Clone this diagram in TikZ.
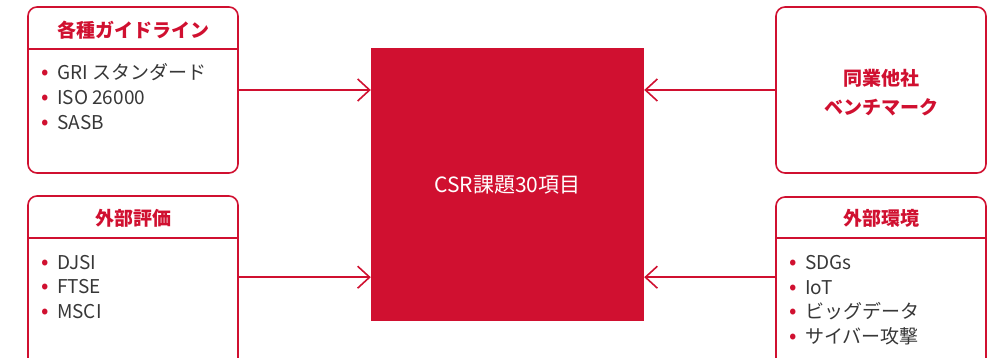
\documentclass[tikz,border=0pt]{standalone}
\usepackage{fontspec}
\setmainfont{Noto Sans CJK JP}
\usetikzlibrary{positioning,arrows.meta}
\definecolor{csrred}{RGB}{208,16,48}
\definecolor{itemgray}{RGB}{55,55,55}
\newcommand{\csrbullet}{\textcolor{csrred}{\fontsize{22}{22}\selectfont•}\hspace{8.5pt}}
\tikzset{
  srcbox/.style={draw=csrred, line width=1.6pt, rounded corners=9pt, minimum width=210pt, inner sep=0pt},
  headtext/.style={text=csrred, font=\fontsize{19}{29}\selectfont\bfseries, align=center},
  itemtext/.style={text=itemgray, font=\fontsize{19}{20}\selectfont, anchor=base west, inner sep=0pt},
  flow/.style={draw=csrred, line width=1.6pt, -{Straight Barb[length=12pt,width=22pt,line width=1.6pt]}},
}
\begin{document}
\begin{tikzpicture}[x=1pt,y=-1pt]
    \useasboundingbox (0,0) rectangle (1002,358);
    \clip (0,0) rectangle (1002,358);
    % the centre square
    \node[fill=csrred, minimum size=273pt, inner sep=0pt, text=white,
          font=\fontsize{21}{22}\selectfont] (csr) at (507.5,184.5) {CSR課題30項目};
    % left boxes
    \node[srcbox, minimum height=166pt] (guide) at (133,90) {};
    \node[srcbox, minimum height=190pt] (rating) at (133,291) {};
    \draw[csrred, line width=1.4pt] (guide.west |- 0,49) -- (guide.east |- 0,49);
    \draw[csrred, line width=1.4pt] (rating.west |- 0,238) -- (rating.east |- 0,238);
    \node[headtext] (guidehead) at (133,30) {各種ガイドライン};
    \node[headtext] (ratinghead) at (133,218) {外部評価};
    \foreach \txt [count=\i] in {GRI スタンダード, ISO 26000, SASB}
        \node[itemtext] (guide\i) at (41,{55+25*\i}) {\csrbullet\txt};
    \foreach \txt [count=\i] in {DJSI, FTSE, MSCI}
        \node[itemtext] (rating\i) at (41,{245+24.5*\i}) {\csrbullet\txt};
    % right boxes
    \node[srcbox, minimum height=166pt] (bench) at (881,90) {};
    \node[srcbox, minimum height=190pt] (env) at (881,292) {};
    \draw[csrred, line width=1.4pt] (env.west |- 0,238) -- (env.east |- 0,238);
    \node[headtext] (benchhead) at (881,93) {同業他社\\ベンチマーク};
    \node[headtext] (envhead) at (881,218) {外部環境};
    \foreach \txt [count=\i] in {SDGs, IoT, ビッグデータ, サイバー攻撃}
        \node[itemtext] (env\i) at (789,{245.5+24.5*\i}) {\csrbullet\txt};
    % arrows into the square
    \coordinate (ratingout) at ([yshift=-82pt]rating.north east);
    \coordinate (envout) at ([yshift=-81pt]env.north west);
    \draw[flow] (guide.east) -- (csr.west |- guide.east);
    \draw[flow] (ratingout) -- (csr.west |- ratingout);
    \draw[flow] (bench.west) -- (csr.east |- bench.west);
    \draw[flow] (envout) -- (csr.east |- envout);
\end{tikzpicture}
\end{document}
